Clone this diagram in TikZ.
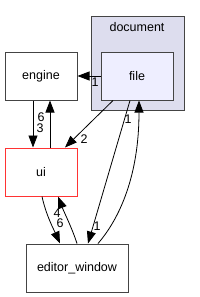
\documentclass[tikz,border=0pt]{standalone}
\usepackage{fontspec}
\setmainfont{Liberation Sans}
\usetikzlibrary{arrows.meta}
\definecolor{clusterfill}{HTML}{DDDDEE}
\definecolor{filefill}{HTML}{EEEEFF}
\definecolor{boxline}{HTML}{444444}
\definecolor{uiline}{HTML}{FF3333}
\tikzset{
  dirbox/.style={draw=boxline, fill=white, line width=1pt, inner sep=0pt,
    minimum width=72pt, minimum height=48pt},
  dep/.style={-{Triangle[length=12pt,width=9pt]}, line width=0.8pt},
  num/.style={inner sep=0pt},
}
\begin{document}
\begin{tikzpicture}[x=1pt,y=-1pt,font=\fontsize{12.5}{14}\selectfont]
\useasboundingbox (0,0) rectangle (200,297);
\draw[fill=clusterfill, draw=boxline, line width=1pt] (91,16) rectangle (184,110);
\node (doc) at (137,27) {document};

\node[dirbox, fill=filefill] (file) at (137,76) {file};
\node[dirbox] (engine) at (41,76) {engine};
\node[dirbox, draw=uiline] (ui) at (41,172) {ui};
\node[dirbox, minimum width=102pt] (editor) at (77,268) {editor\_window};

\draw[dep] (file.west) -- (engine.east);
\node[num] (n1) at (95,82) {1};

\draw[dep] ([xshift=-8pt]engine.south) -- ([xshift=-8pt]ui.north);
\draw[dep] ([xshift=9pt]ui.north) -- ([xshift=9pt]engine.south);
\node[num] (n2) at (41,117) {6};
\node[num] (n3) at (40,128) {3};

\draw[dep] ([xshift=-24pt]file.south) -- ([xshift=24pt]ui.north);
\node[num] (n4) at (84,139) {2};

\draw[dep] ([xshift=-7pt]file.south) -- ([xshift=11pt]editor.north);
\node[num] (n5) at (97,226) {1};
\draw[dep] ([xshift=21pt]editor.north) .. controls (120,218) and (139,175) .. ([xshift=2pt]file.south);
\node[num] (n6) at (128,119) {1};

\draw[dep] ([xshift=1pt]ui.south) .. controls (46,215) and (54,230) .. ([xshift=-17pt]editor.north);
\draw[dep] (editor.north) .. controls (72,228) and (64,212) .. ([xshift=17pt]ui.south);
\node[num] (n7) at (57,213) {4};
\node[num] (n8) at (60,223) {6};
\end{tikzpicture}
\end{document}
